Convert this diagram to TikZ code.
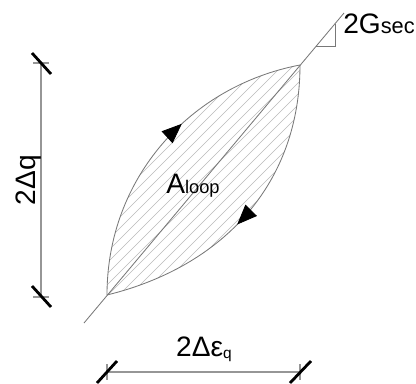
\documentclass[tikz,border=0pt]{standalone}
\usepackage{fontspec}
\setmainfont{Liberation Sans}
\usetikzlibrary{arrows.meta,decorations.markings}
\definecolor{loopgray}{RGB}{120,120,120}
\definecolor{hatchgray}{RGB}{185,185,185}
\definecolor{dimgray}{RGB}{150,150,150}

\begin{document}
\begin{tikzpicture}[
    x=0.025cm, y=-0.025cm,
    curve/.style={
        draw=loopgray,
        line width=0.6pt
    },
    hatch/.style={
        draw=hatchgray,
        line width=0.45pt
    },
    dim/.style={
        draw=dimgray,
        line width=0.8pt
    },
    tick/.style={
        draw=black,
        line width=2pt
    },
    lbl/.style={
        inner sep=0pt,
        font=\fontsize{20}{24}\selectfont
    },
    flow/.style={
        postaction={decorate},
        decoration={markings,
            mark=at position #1 with {\arrow[black]{Triangle[length=5mm,width=4mm]}}}
    }
]
\useasboundingbox (0,0) rectangle (416,383);

% ============================================================
% Loop
% ============================================================

\coordinate (lo) at (107,295);
\coordinate (hi) at (300,65);
\coordinate (up1) at (107,178);
\coordinate (up2) at (190,86);
\coordinate (dn1) at (300,182);
\coordinate (dn2) at (225,266);

\begin{scope}
\clip (lo) .. controls (up1) and (up2) .. (hi)
           .. controls (dn1) and (dn2) .. (lo);
\foreach \k in {260,271,...,540}
    \draw[hatch] ({\k-330},330) -- (\k,0);
\end{scope}

\draw[curve, flow=0.59] (lo) .. controls (up1) and (up2) .. (hi);
\draw[curve, flow=0.54] (hi) .. controls (dn1) and (dn2) .. (lo);

% secant line
\coordinate (s0) at (84,323);
\coordinate (s1) at (344,13);
\draw[curve] (s0) -- (s1);

% slope triangle
\coordinate (t0) at (316.3,46);
\coordinate (t1) at (335,46);
\coordinate (t2) at (335,23.7);
\draw[curve] (t0) -- (t1) -- (t2);

\node[lbl, anchor=base west] (gsec) at (343,33)
{2G{\fontsize{15.5}{18}\selectfont sec}};

\node[lbl, anchor=base west] (aloop) at (166,193)
{A{\fontsize{13}{15}\selectfont loop}};

% ============================================================
% Dimensions
% ============================================================

\coordinate (v0) at (41,63);
\coordinate (v1) at (41,297);
\draw[dim] (v0) -- (v1);
\draw[dim] (33,63) -- (49,63);
\draw[dim] (33,297) -- (49,297);
\draw[tick] (32,53) -- (51,74);
\draw[tick] (32,286) -- (51,307);

\node[lbl, rotate=90, anchor=base] (dq) at (35,180)
{2Δq};

\coordinate (h0) at (107,372);
\coordinate (h1) at (300,372);
\draw[dim] (h0) -- (h1);
\draw[dim] (107,364) -- (107,380);
\draw[dim] (300,364) -- (300,380);
\draw[tick] (97,383) -- (117,361);
\draw[tick] (290,383) -- (311,361);

\node[lbl, anchor=base] (deps) at (204,356)
{2Δε\raisebox{-2pt}{\fontsize{11}{13}\selectfont q}};

\end{tikzpicture}
\end{document}
